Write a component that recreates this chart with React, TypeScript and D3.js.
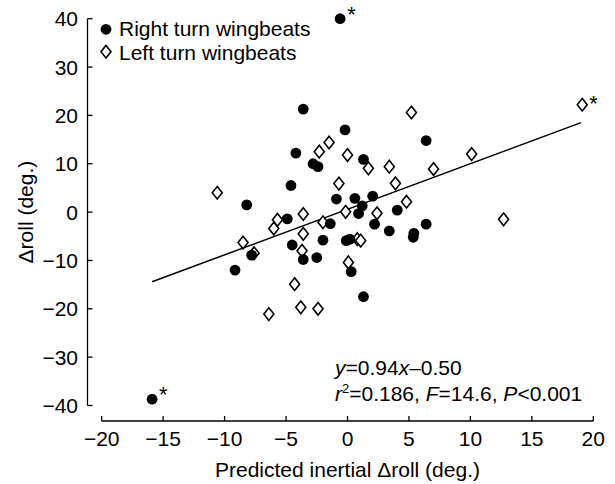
import React from "react";
import * as d3 from "d3";

// Right turn wingbeats (filled circles)
const rightX = [-0.6, -3.6, -0.2, 6.4, -2.8, -2.4, 1.3, -4.2, -4.6, -8.2, -4.9, -4.5, -7.8, -9.15, -3.6, -2.5, -15.9, -0.9, 0.6, 1.2, 2.05, 0.9, 4.05, -1.4, 2.2, 3.4, -2.0, -0.1, 0.2, 0.3, 1.3, 5.4, 5.35, 6.4];
const rightY = [40.0, 21.3, 17.0, 14.8, 10.0, 9.4, 10.9, 12.2, 5.5, 1.5, -1.4, -6.8, -8.9, -12.0, -9.8, -9.4, -38.7, 2.7, 2.85, 1.3, 3.3, -0.3, 0.4, -2.4, -2.5, -3.9, -5.8, -5.9, -5.6, -12.3, -17.5, -4.4, -5.2, -2.5];
const rightStarred = [0, 16];

// Left turn wingbeats (open diamonds)
const leftX = [19.1, 5.2, 10.1, -1.5, -2.3, 0.0, 1.7, 3.4, 7.0, -0.7, 3.9, 4.8, -10.6, -3.6, -5.7, -6.0, -3.6, -2.0, -0.15, 2.4, -8.5, -7.6, -3.7, 0.8, 1.07, 0.07, -4.3, -3.8, -2.4, -6.4, 12.7];
const leftY = [22.2, 20.6, 12.0, 14.4, 12.5, 11.8, 9.05, 9.4, 8.9, 5.9, 5.95, 2.15, 4.0, -0.4, -1.6, -3.4, -4.5, -2.1, 0.05, -0.25, -6.3, -8.5, -8.0, -5.6, -5.9, -10.4, -14.9, -19.7, -20.0, -21.1, -1.5];
const leftStarred = [0];

// Regression line end points as drawn
const lineX = [-15.9, 19.0];
const lineY = [-14.4, 18.5];

const xTicks = [-20, -15, -10, -5, 0, 5, 10, 15, 20];
const yTicks = [-40, -30, -20, -10, 0, 10, 20, 30, 40];

const legendLabels = ["Right turn wingbeats", "Left turn wingbeats"];
const xTitle = "Predicted inertial \u0394roll (deg.)";
const yTitle = "\u0394roll (deg.)";

const FONT = "'Liberation Sans', Arial, Helvetica, sans-serif";

export default function App() {
  const W = 615, H = 484;
  const x = d3.scaleLinear().domain([-20, 20]).range([101.7, 593.3]);
  const y = d3.scaleLinear().domain([-40, 40]).range([405.5, 18.7]);
  const fmt = d3.format("d");
  const axisX = 87.5;
  const axisY = 421;
  const fs = 21;

  const diamond = (cx: number, cy: number) =>
    `M${cx},${cy - 6.3}L${cx + 5},${cy}L${cx},${cy + 6.3}L${cx - 5},${cy}Z`;

  const line = d3.line<[number, number]>().x(d => x(d[0])).y(d => y(d[1]));
  const linePts: [number, number][] = lineX.map((v, i) => [v, lineY[i]]);

  return (
    <svg width={W} height={H} style={{ position: "absolute", left: 0, top: 0, background: "#fff" }} fontFamily={FONT}>
      <rect width={W} height={H} fill="#fff" />
      {/* Y axis */}
      <line x1={axisX} x2={axisX} y1={y(-40)} y2={y(40)} stroke="#000" strokeWidth={1.3} />
      {yTicks.map(t => (
        <g key={"y" + t}>
          <line x1={axisX} x2={axisX + 5} y1={y(t)} y2={y(t)} stroke="#000" strokeWidth={1.3} />
          <text x={78} y={y(t) + 7.5} textAnchor="end" fontSize={fs} fill="#000">{fmt(t)}</text>
        </g>
      ))}
      {/* X axis */}
      <line x1={x(-20)} x2={x(20)} y1={axisY} y2={axisY} stroke="#000" strokeWidth={1.3} />
      {xTicks.map(t => (
        <g key={"x" + t}>
          <line x1={x(t)} x2={x(t)} y1={axisY} y2={axisY - 5} stroke="#000" strokeWidth={1.3} />
          <text x={x(t)} y={446} textAnchor="middle" fontSize={fs} fill="#000">{fmt(t)}</text>
        </g>
      ))}
      <text x={(x(-20) + x(20)) / 2} y={477} textAnchor="middle" fontSize={fs} fill="#000">{xTitle}</text>
      <text transform={`translate(32.5,${(y(-40) + y(40)) / 2}) rotate(-90)`} textAnchor="middle" fontSize={fs} fill="#000">{yTitle}</text>

      {/* regression line */}
      <path d={line(linePts) || ""} fill="none" stroke="#000" strokeWidth={1.5} />

      {/* left turn diamonds */}
      {leftX.map((v, i) => (
        <path key={"l" + i} d={diamond(x(v), y(leftY[i]))} fill="#fff" stroke="#000" strokeWidth={1.6} />
      ))}
      {/* right turn circles */}
      {rightX.map((v, i) => (
        <circle key={"r" + i} cx={x(v)} cy={y(rightY[i])} r={5.4} fill="#000" />
      ))}
      {/* asterisks */}
      {rightStarred.map(i => (
        <text key={"rs" + i} x={x(rightX[i]) + 7} y={y(rightY[i]) + 3} fontSize={22} fill="#000">*</text>
      ))}
      {leftStarred.map(i => (
        <text key={"ls" + i} x={x(leftX[i]) + 7} y={y(leftY[i]) + 6.5} fontSize={22} fill="#000">*</text>
      ))}

      {/* legend */}
      <circle cx={106} cy={29.3} r={5.4} fill="#000" />
      <text x={119} y={36} fontSize={fs} fill="#000">{legendLabels[0]}</text>
      <path d={diamond(106, 51.7)} fill="#fff" stroke="#000" strokeWidth={1.6} />
      <text x={119} y={60} fontSize={fs} fill="#000">{legendLabels[1]}</text>

      {/* statistics */}
      <text x={335} y={375} fontSize={fs} fill="#000">
        <tspan fontStyle="italic">y</tspan>=0.94<tspan fontStyle="italic">x</tspan>{"\u20130.50"}
      </text>
      <text x={335} y={401} fontSize={fs} fill="#000">
        <tspan fontStyle="italic">r</tspan><tspan fontSize={13} dy={-8}>2</tspan><tspan dy={8}>=0.186, </tspan><tspan fontStyle="italic">F</tspan>=14.6, <tspan fontStyle="italic">P</tspan>{"<0.001"}
      </text>
    </svg>
  );
}
